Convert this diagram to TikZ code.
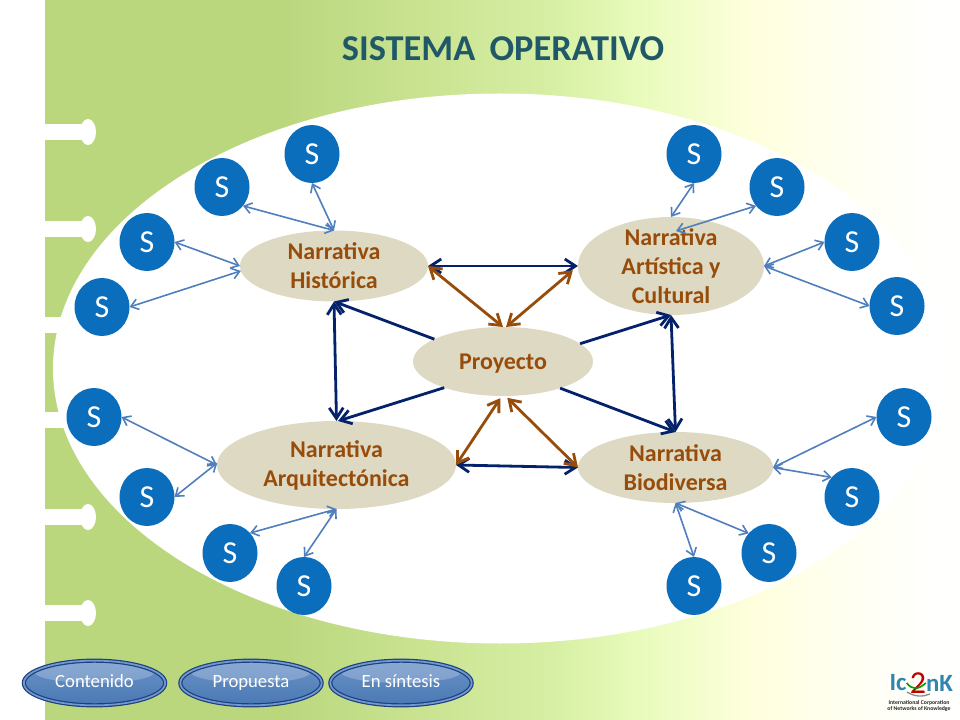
\documentclass[tikz,border=0pt]{standalone}
\usepackage{xcolor}
\usepackage{fontspec}
\setmainfont{Carlito}
\usepackage{tikz}
\usetikzlibrary{calc}
\usetikzlibrary{arrows.meta}
\usetikzlibrary{positioning}
\usetikzlibrary{shapes.geometric}
\definecolor{sblue}{HTML}{0A6EBD}
\definecolor{slink}{HTML}{4F7FBD}
\definecolor{navy}{HTML}{04226B}
\definecolor{rust}{HTML}{984C0A}
\definecolor{sand}{HTML}{DDD9C3}
\definecolor{titlecol}{HTML}{215868}
\definecolor{grn}{HTML}{BBD77E}
\definecolor{grnb}{HTML}{D6EEA3}
\definecolor{grnc}{HTML}{E8FBBB}
\definecolor{crma}{HTML}{FFFFDE}
\definecolor{crmb}{HTML}{FFFFEB}
\definecolor{crmc}{HTML}{FFFFF8}
\definecolor{crmd}{HTML}{FFFFFF}
\definecolor{logoc}{HTML}{2F86AE}
\pgfdeclarehorizontalshading{slideshade}{100bp}{color(0bp)=(grn); color(25bp)=(grn); color(38bp)=(grn); color(52.5bp)=(grnb); color(57.3bp)=(grnc); color(63.8bp)=(crma); color(67bp)=(crmb); color(71bp)=(crmc); color(75bp)=(crmd); color(100bp)=(crmd)}
\tikzstyle{sn} = [ellipse, fill = sblue, text = white, inner sep = 0, outer sep = 0, minimum width = 41.25pt, minimum height = 43.5pt, font = \fontsize{24}{26}\selectfont]
\tikzstyle{nar} = [ellipse, fill = sand, text = rust, inner sep = 0, inner ysep = -3pt, outer sep = 0, align = center, font = \fontsize{18}{21.75}\selectfont\bfseries]
\tikzstyle{sl} = [{Straight Barb[length=5.5pt,width=8pt]}-{Straight Barb[length=5.5pt,width=8pt]}, draw = slink, line width = 1.2pt]
\tikzstyle{nv} = [{Straight Barb[length=8pt,width=10.5pt]}-{Straight Barb[length=8pt,width=10.5pt]}, draw = navy, line width = 2.1pt]
\tikzstyle{nvo} = [-{Straight Barb[length=8pt,width=10.5pt]}, draw = navy, line width = 2.1pt]
\tikzstyle{rs} = [{Straight Barb[length=8pt,width=10.5pt]}-{Straight Barb[length=8pt,width=10.5pt]}, draw = rust, line width = 2.1pt]
\tikzstyle{btn} = [ellipse, draw = navy!70!slink, line width = .9pt, double = slink!80!white, double distance = 1.3pt, top color = slink!85!white, bottom color = slink!95!black, inner sep = 0, outer sep = 0, minimum width = 106pt, minimum height = 33.5pt, text = white, font = \fontsize{14}{16}\selectfont, execute at begin node = \strut, path picture = {\fill [white, opacity = .22] (path picture bounding box.center) ++(0, -11) ellipse [x radius = 60, y radius = 11];}]
\tikzstyle{tabbar} = [white]
\newcommand{\bindertab}[1]{\fill [tabbar] (45, #1 - 8) rectangle (84, #1 + 8); \fill [tabbar] (88, #1) ellipse [x radius = 8, y radius = 13];}

\begin{document}
\begin{tikzpicture}[x = .75pt, y = -.75pt]
\useasboundingbox (0, 0) rectangle (960, 720);
\fill [white] (0, 0) rectangle (960, 720);
\shade [shading = slideshade] (45, 0) rectangle (960, 720);
\fill [white] (500, 368.5) ellipse [x radius = 447, y radius = 275];

% binder tabs
\bindertab{132}
\bindertab{229}
\bindertab{325}
\bindertab{420}
\bindertab{517}
\bindertab{613}

\node [draw=none, inner sep = 0, text = titlecol, font = \fontsize{27.3}{30}\selectfont\bfseries] (title) at (503, 49) {SISTEMA\, OPERATIVO};

\node [nar, minimum width = 141pt, minimum height = 53.25pt] (Hi) at (334, 266) {Narrativa\\Histórica};
\node [nar, inner ysep = -10pt, minimum width = 139.5pt, minimum height = 73.5pt] (Ar) at (671, 266) {Narrativa\\Artística y\\Cultural};
\node [nar, text depth = 0pt, minimum width = 135pt, minimum height = 51.75pt] (Pr) at (503, 361.5) {Proyecto};
\node [nar, minimum width = 179.25pt, minimum height = 66pt] (Aq) at (336.5, 465) {Narrativa\\Arquitectónica};
\node [nar, minimum width = 146.25pt, minimum height = 53.25pt] (Bi) at (675.5, 467.5) {Narrativa\\Biodiversa};
\coordinate (ArIn) at (676, 231);

\node [sn] (S1) at (312, 154) {S};
\node [sn] (S2) at (222, 187) {S};
\node [sn] (S3) at (147, 242) {S};
\node [sn] (S4) at (102, 307) {S};
\node [sn] (S5) at (694, 154) {S};
\node [sn] (S6) at (777, 187) {S};
\node [sn] (S7) at (852, 242) {S};
\node [sn] (S8) at (897, 306) {S};
\node [sn] (S9) at (94, 417) {S};
\node [sn] (S10) at (147, 497) {S};
\node [sn] (S11) at (230, 553) {S};
\node [sn] (S12) at (304, 586) {S};
\node [sn] (S13) at (904, 417) {S};
\node [sn] (S14) at (852, 497) {S};
\node [sn] (S15) at (769, 553) {S};
\node [sn] (S16) at (694, 586) {S};

\draw [sl] (S1.south) -- (Hi.north);
\draw [sl] (S2.318) -- (Hi.north);
\draw [sl] (S3.east) -- (Hi.west);
\draw [sl] (S4.east) -- (Hi.183);
\draw [sl] (S5.south) -- (Ar.north);
\draw [sl] (S6.222) -- (ArIn);
\draw [sl] (S7.west) -- (Ar.east);
\draw [sl] (S8.west) -- (Ar.east);
\draw [sl] (S9.east) -- (Aq.west);
\draw [sl] (S10.east) -- (Aq.179);
\draw [sl] (S11.45) -- (Aq.south);
\draw [sl] (S12.north) -- (Aq.south);
\draw [sl] (S13.west) -- (Bi.east);
\draw [sl] (S14.136) -- (Bi.east);
\draw [sl] (S15.136) -- (Bi.south);
\draw [sl] (S16.north) -- (Bi.south);

\draw [nv] (Hi.east) -- (Ar.west);
\draw [nv] (Aq.east) -- (Bi.west);
\draw [nv] (Hi.south) -- (Aq.north);
\draw [nv] (Ar.south) -- (Bi.north);
\draw [nvo] (Pr.162) -- (Hi.south);
\draw [nvo] (Pr.204) -- (Aq.88);
\draw [nvo] (Pr.13) -- (Ar.south);
\draw [nvo] (Pr.335) -- (Bi.north);

\draw [rs] (Hi.east) -- (Pr.north);
\draw [rs, shorten <= 5pt] (Ar.west) -- (Pr.85);
\draw [rs, shorten <= 2pt] (Pr.268) -- (Aq.east);
\draw [rs, shorten <= 2pt] (Pr.274) -- (Bi.west);

\node [btn] (Con) at (94.5, 683) {Contenido};
\node [btn] (Pro) at (251, 683) {Propuesta};
\node [btn] (Sin) at (401, 683) {En síntesis};

% logo
\node [draw=none, inner sep = 0, text = logoc, font = \fontsize{18.6}{20}\selectfont\bfseries] (Ic) at (898, 683) {Ic};
\node [draw=none, inner sep = 0, text = logoc, font = \fontsize{18.6}{20}\selectfont\bfseries] (nK) at (939.5, 683) {nK};
\node [draw=none, inner sep = 0, text = red!75!black, font = \fontsize{24}{24}\selectfont] (two) at (918, 683) {2};
\draw [green!60!black, line width = 1.2pt] (Ic.east) .. controls (912, 690) and (918, 690) .. (nK.west);
\draw [black!45, line width = 1pt] (907, 692) .. controls (915, 697) and (923, 697) .. (930, 694);
\node [draw=none, inner sep = 0, align = center, text = black!85, font = \fontsize{4.3}{4.6}\selectfont\bfseries] (ick) at (919, 706) {International Corporation\\of Networks of Knowledge};
\end{tikzpicture}
\end{document}
